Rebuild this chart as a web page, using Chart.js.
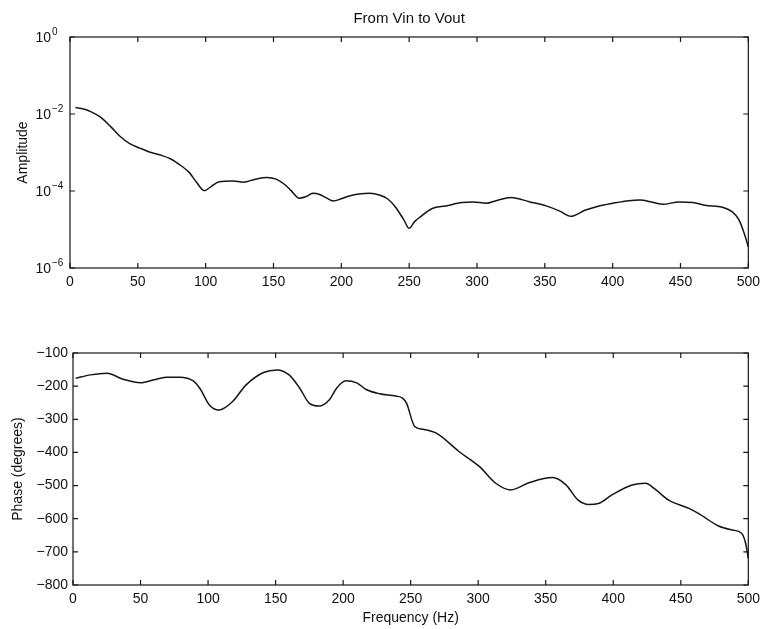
<!DOCTYPE html>
<html>
<head>
<meta charset="utf-8">
<script src="https://cdn.jsdelivr.net/npm/chart.js@4"></script>
<style>
  html, body { margin: 0; padding: 0; background: #fff; }
  #wrap { position: relative; width: 766px; height: 629px; overflow: hidden; }
  .pane { position: absolute; left: 0; width: 766px; }
  #pTop { top: 0; height: 300px; }
  #pBot { top: 300px; height: 329px; }
</style>
</head>
<body>
<div id="wrap">
  <div class="pane" id="pTop"><canvas id="amp" width="766" height="300"></canvas></div>
  <div class="pane" id="pBot"><canvas id="phase" width="766" height="329"></canvas></div>
</div>
<script>
// Frequency response from Vin to Vout: amplitude (log) and phase (degrees)
const ampFreq = [4, 10, 16, 22, 30, 37, 44, 51.5, 58, 66, 74, 81, 88, 93, 99, 104, 110, 120, 128, 136,
  145, 152, 158, 163, 169, 174, 179, 184, 189, 194, 200, 206, 213, 221, 228, 234, 240, 246, 250, 254,
  258, 267, 277, 289, 297, 307, 314, 325, 339, 351, 361, 369, 380, 390, 400, 412, 420, 430, 437, 449,
  459, 469, 481, 488, 493, 497, 500];
const ampValues = [1.48e-2, 1.35e-2, 1.12e-2, 8.5e-3, 4.7e-3, 2.6e-3, 1.7e-3, 1.3e-3, 1.05e-3, 8.7e-4,
  6.9e-4, 4.8e-4, 3.0e-4, 1.74e-4, 1.02e-4, 1.3e-4, 1.74e-4, 1.82e-4, 1.7e-4, 2.0e-4,
  2.24e-4, 2.04e-4, 1.5e-4, 1.02e-4, 6.5e-5, 7.2e-5, 8.7e-5, 8.1e-5, 6.6e-5, 5.5e-5,
  6.3e-5, 7.4e-5, 8.3e-5, 8.7e-5, 7.9e-5, 6.3e-5, 3.8e-5, 1.8e-5, 1.07e-5, 1.6e-5,
  2.1e-5, 3.5e-5, 4.1e-5, 5.0e-5, 5.2e-5, 4.8e-5, 5.6e-5, 6.8e-5, 5.2e-5, 4.1e-5,
  3.0e-5, 2.2e-5, 3.2e-5, 4.1e-5, 4.8e-5, 5.6e-5, 5.8e-5, 5.0e-5, 4.5e-5, 5.2e-5,
  5.0e-5, 4.2e-5, 3.8e-5, 2.9e-5, 1.8e-5, 7.9e-6, 3.5e-6];

const phaseFreq = [2, 13, 25, 37, 50, 60, 69, 79, 89, 94, 101, 108, 118, 128, 141, 151, 160, 168, 175, 182,
  190, 195, 202, 210, 217, 227, 239, 244, 247, 253, 259, 269, 286, 301, 313, 324, 338, 355, 365, 374,
  382, 389, 399, 414, 424, 431, 441, 456, 463, 478, 488, 495, 498, 500];
const phaseValues = [-176, -166, -161, -179, -190, -181, -173, -173, -184, -207, -257, -272, -247, -197, -159, -151, -166, -207, -252, -260,
  -240, -207, -184, -190, -210, -223, -230, -236, -252, -322, -330, -342, -398, -443, -493, -513, -491, -476, -498, -544,
  -557, -554, -528, -498, -493, -511, -544, -569, -584, -622, -634, -644, -674, -720];

const freqTicks = [0, 50, 100, 150, 200, 250, 300, 350, 400, 450, 500];
const ampTicks = [1e-6, 1e-4, 1e-2, 1e0];
const phaseTicks = [-800, -700, -600, -500, -400, -300, -200, -100];

const titleText = 'From Vin to Vout';
const ampLabel = 'Amplitude';
const phaseLabel = 'Phase (degrees)';
const freqLabel = 'Frequency (Hz)';

const FONT = "'Liberation Sans', Arial, Helvetica, sans-serif";
Chart.defaults.font.family = FONT;
Chart.defaults.color = '#111';
Chart.defaults.animation = false;

const INK = '#151515';

function toPoints(xs, ys) {
  return xs.map((x, i) => ({ x: x, y: ys[i] }));
}

// Box around the axes with short inward ticks on all four sides
const framePlugin = {
  id: 'frame',
  afterDatasetsDraw(chart) {
    const { ctx, chartArea: a, scales } = chart;
    const len = 5;
    ctx.save();
    ctx.strokeStyle = INK;
    ctx.lineWidth = 1.2;
    ctx.strokeRect(a.left, a.top, a.right - a.left, a.bottom - a.top);
    ctx.beginPath();
    scales.x.ticks.forEach(t => {
      const x = scales.x.getPixelForValue(t.value);
      ctx.moveTo(x, a.bottom); ctx.lineTo(x, a.bottom - len);
      ctx.moveTo(x, a.top); ctx.lineTo(x, a.top + len);
    });
    scales.y.ticks.forEach(t => {
      const y = scales.y.getPixelForValue(t.value);
      ctx.moveTo(a.left, y); ctx.lineTo(a.left + len, y);
      ctx.moveTo(a.right, y); ctx.lineTo(a.right - len, y);
    });
    ctx.stroke();
    ctx.restore();
  }
};

// Heading centred over the plot box
const headingPlugin = {
  id: 'heading',
  afterDraw(chart, args, opts) {
    const { ctx, chartArea: a } = chart;
    ctx.save();
    ctx.fillStyle = '#111';
    ctx.font = '15px ' + FONT;
    ctx.textAlign = 'center';
    ctx.textBaseline = 'middle';
    ctx.fillText(opts.text, (a.left + a.right) / 2, 19);
    ctx.restore();
  }
};

// Power-of-ten labels with raised exponents for the log axis
const powerLabels = {
  id: 'powerLabels',
  afterDraw(chart) {
    const { ctx, scales } = chart;
    const y = scales.y;
    ctx.save();
    ctx.fillStyle = '#111';
    ctx.textBaseline = 'middle';
    y.ticks.forEach(t => {
      const py = y.getPixelForValue(t.value);
      const exp = Math.round(Math.log10(t.value));
      ctx.font = '14px ' + FONT;
      ctx.textAlign = 'right';
      ctx.fillText('10', 51, py + 1);
      ctx.font = '10px ' + FONT;
      ctx.textAlign = 'left';
      ctx.fillText(String(exp).replace('-', '\u2212'), 52, py - 5);
    });
    ctx.restore();
  }
};

const lineStyle = {
  borderColor: INK,
  borderWidth: 1.5,
  pointRadius: 0,
  fill: false,
  showLine: true,
  cubicInterpolationMode: 'monotone'
};

const tickFont = { size: 14 };

new Chart(document.getElementById('amp'), {
  type: 'scatter',
  data: { datasets: [Object.assign({ data: toPoints(ampFreq, ampValues) }, lineStyle)] },
  options: {
    responsive: false,
    devicePixelRatio: 1,
    layout: { padding: { left: 0, right: 17, top: 37, bottom: 0 } },
    plugins: {
      legend: { display: false },
      tooltip: { enabled: false },
      heading: { text: titleText }
    },
    scales: {
      x: {
        type: 'linear', min: 0, max: 500,
        afterBuildTicks: s => { s.ticks = freqTicks.map(v => ({ value: v })); },
        afterFit: s => { s.height = 32; },
        grid: { display: false, drawTicks: false },
        border: { display: false },
        ticks: { font: tickFont, color: '#111', padding: 6, maxRotation: 0 }
      },
      y: {
        type: 'logarithmic', min: 1e-6, max: 1,
        afterBuildTicks: s => { s.ticks = ampTicks.map(v => ({ value: v })); },
        afterFit: s => { s.width = 70; },
        grid: { display: false, drawTicks: false },
        border: { display: false },
        ticks: { display: false },
        title: { display: true, text: ampLabel, color: '#111', font: { size: 14 }, padding: { top: 15, bottom: 0 } }
      }
    }
  },
  plugins: [framePlugin, powerLabels, headingPlugin]
});

new Chart(document.getElementById('phase'), {
  type: 'scatter',
  data: { datasets: [Object.assign({ data: toPoints(phaseFreq, phaseValues) }, lineStyle)] },
  options: {
    responsive: false,
    devicePixelRatio: 1,
    layout: { padding: { left: 0, right: 16, top: 53, bottom: 0 } },
    plugins: { legend: { display: false }, tooltip: { enabled: false } },
    scales: {
      x: {
        type: 'linear', min: 0, max: 500,
        afterBuildTicks: s => { s.ticks = freqTicks.map(v => ({ value: v })); },
        afterFit: s => { s.height = 44; },
        grid: { display: false, drawTicks: false },
        border: { display: false },
        ticks: { font: tickFont, color: '#111', padding: 6, maxRotation: 0 },
        title: { display: true, text: freqLabel, color: '#111', font: { size: 14 }, padding: { top: 0, bottom: 2 } }
      },
      y: {
        type: 'linear', min: -800, max: -100,
        afterBuildTicks: s => { s.ticks = phaseTicks.map(v => ({ value: v })); },
        afterFit: s => { s.width = 73; },
        grid: { display: false, drawTicks: false },
        border: { display: false },
        ticks: {
          font: tickFont, color: '#111', padding: 5,
          callback: v => String(v).replace('-', '\u2212')
        },
        title: { display: true, text: phaseLabel, color: '#111', font: { size: 14 }, padding: { top: 10, bottom: 0 } }
      }
    }
  },
  plugins: [framePlugin]
});
</script>
</body>
</html>
